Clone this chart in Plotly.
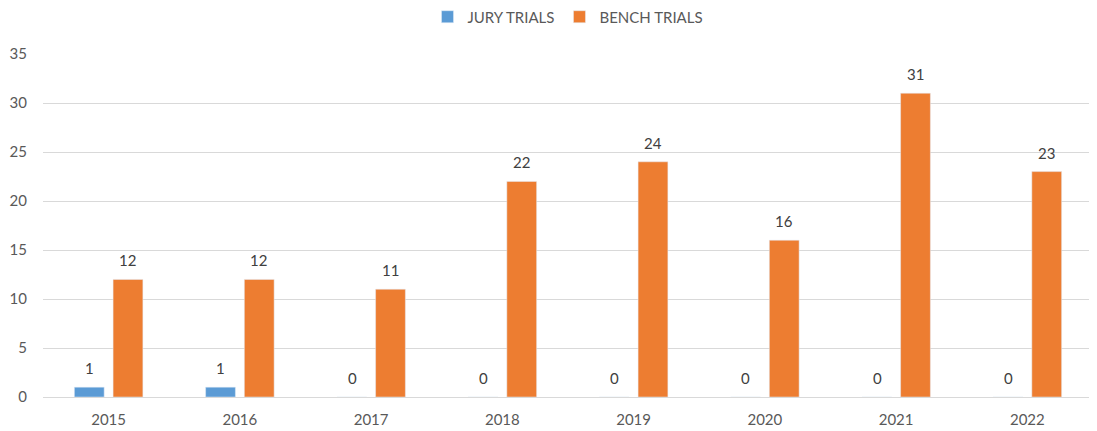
import plotly.graph_objects as go

years = ["2015", "2016", "2017", "2018", "2019", "2020", "2021", "2022"]
jury = [1, 1, 0, 0, 0, 0, 0, 0]
bench = [12, 12, 11, 22, 24, 16, 31, 23]

BLUE = "#5B9BD5"
ORANGE = "#ED7D31"
FONT = "Lato, 'Open Sans', sans-serif"
GREY = "#595959"

fig = go.Figure()
fig.add_trace(go.Bar(x=years, y=jury, name="JURY TRIALS", marker_color=BLUE))
fig.add_trace(go.Bar(x=years, y=bench, name="BENCH TRIALS", marker_color=ORANGE))

for i, y in enumerate(years):
    for vals, shift in ((jury, -19), (bench, 19)):
        fig.add_annotation(x=i, y=vals[i], text=str(vals[i]), showarrow=False,
                           xshift=shift, yshift=19, yanchor="middle",
                           font=dict(family=FONT, size=15, color="#404040"))

fig.update_layout(
    width=1089, height=423,
    margin=dict(l=35, r=4, t=46, b=34, autoexpand=False),
    plot_bgcolor="white", paper_bgcolor="white",
    barmode="group", bargap=0.41, bargroupgap=0.23,
    font=dict(family=FONT, size=14, color=GREY),
    legend=dict(orientation="h", x=0.5, xanchor="center", y=1.108, yanchor="middle",
                font=dict(size=15, color=GREY), tracegroupgap=0),
    showlegend=True,
)
fig.update_xaxes(type="category", range=[-0.5, len(years) - 0.5], showgrid=False,
                 showline=True, linecolor="#D9D9D9", linewidth=1,
                 ticks="outside", ticklen=9, tickcolor="rgba(0,0,0,0)",
                 tickfont=dict(size=15, color=GREY))
fig.update_yaxes(range=[0, 35], dtick=5, showgrid=True, gridcolor="#D9D9D9",
                 zeroline=False, showline=False, ticks="outside", ticklen=12,
                 tickcolor="rgba(0,0,0,0)",
                 tickfont=dict(size=15, color=GREY))

fig.write_html("out.html")
